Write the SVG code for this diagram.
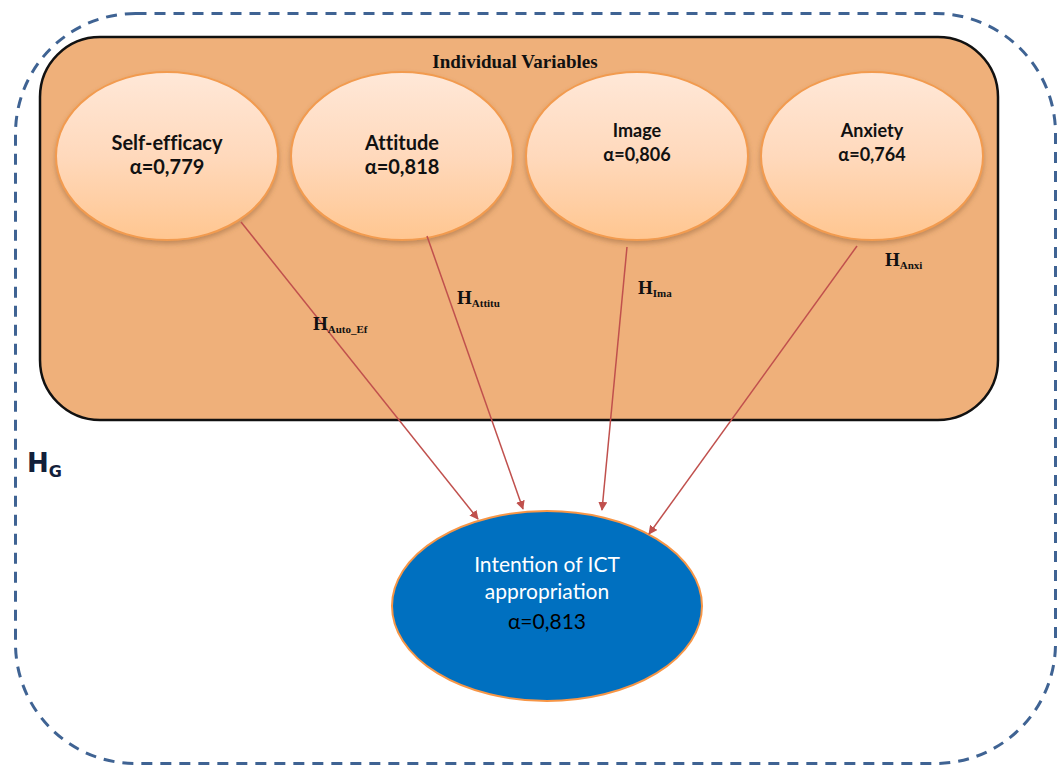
<svg xmlns="http://www.w3.org/2000/svg" width="1057" height="765" viewBox="0 0 1057 765">
<defs>
<linearGradient id="eg" x1="0" y1="0" x2="0" y2="1">
<stop offset="0" stop-color="#FFE8D8"/>
<stop offset="0.5" stop-color="#FFD9BC"/>
<stop offset="1" stop-color="#FFC690"/>
</linearGradient>
<filter id="sh" x="-10%" y="-10%" width="120%" height="130%">
<feDropShadow dx="0" dy="3" stdDeviation="2.5" flood-color="#8a5a30" flood-opacity="0.45"/>
</filter>
<marker id="ah" viewBox="0 0 10 10" refX="9" refY="5" markerWidth="9" markerHeight="9" markerUnits="userSpaceOnUse" orient="auto">
<path d="M0,0 L10,5 L0,10 Z" fill="#C0504D"/>
</marker>
<style>
.var{fill:url(#eg);stroke:#F29B4F;stroke-width:2;filter:url(#sh)}
.t1{font-family:Lato,"Liberation Sans",sans-serif;font-weight:bold;font-size:20px;fill:#111;text-anchor:middle;font-variant-ligatures:none}
.t2{font-family:Lato,"Liberation Sans",sans-serif;font-weight:bold;font-size:18px;fill:#111;text-anchor:middle}
.h{font-family:"Liberation Serif","Times New Roman",serif;font-weight:bold;fill:#111}
.hb{font-size:19px}
.hs{font-size:11px}
.conn line{stroke:#C0504D;stroke-width:1.5;marker-end:url(#ah)}
</style>
</defs>
<rect x="0" y="0" width="1057" height="765" fill="#fff"/>
<g id="group-HG">
<rect x="15.5" y="13.5" width="1040" height="750" rx="120" ry="120" fill="none" stroke="#3F6393" stroke-width="3" stroke-dasharray="11 8"/>
<text x="27" y="472" font-family="'DejaVu Sans','Liberation Sans',sans-serif" font-weight="bold" fill="#12203A"><tspan font-size="26">H</tspan><tspan font-size="16" dy="5">G</tspan></text>
</g>
<g id="group-individual">
<rect x="40" y="37" width="958" height="383" rx="60" ry="60" fill="#EFB07A" stroke="#111" stroke-width="2.5"/>
<text x="515" y="68" font-family="'Liberation Serif','Times New Roman',serif" font-weight="bold" font-size="19" fill="#111" text-anchor="middle">Individual Variables</text>
</g>
<g id="node-selfefficacy">
<ellipse class="var" cx="167" cy="156" rx="111" ry="84"/>
<text class="t1" x="167" y="150">Self-efficacy</text>
<text class="t1" x="167" y="174">α=0,779</text>
</g>
<g id="node-attitude">
<ellipse class="var" cx="402" cy="156" rx="111" ry="84"/>
<text class="t1" x="402" y="150">Attitude</text>
<text class="t1" x="402" y="174">α=0,818</text>
</g>
<g id="node-image">
<ellipse class="var" cx="637" cy="156" rx="111" ry="84"/>
<text class="t2" x="637" y="137">Image</text>
<text class="t2" x="637" y="161">α=0,806</text>
</g>
<g id="node-anxiety">
<ellipse class="var" cx="872" cy="156" rx="111" ry="84"/>
<text class="t2" x="872" y="137">Anxiety</text>
<text class="t2" x="872" y="161">α=0,764</text>
</g>
<g id="node-intention">
<ellipse cx="547" cy="606" rx="155" ry="95" fill="#0070C0" stroke="#F79646" stroke-width="2"/>
<text x="547" y="572" font-family="Lato,'Liberation Sans',sans-serif" font-size="21" fill="#fff" text-anchor="middle">Intention of ICT</text>
<text x="547" y="599" font-family="Lato,'Liberation Sans',sans-serif" font-size="21" fill="#fff" text-anchor="middle">appropriation</text>
<text x="547" y="629" font-family="Lato,'Liberation Sans',sans-serif" font-size="21" fill="#000" text-anchor="middle">α=0,813</text>
</g>
<g id="connectors" class="conn">
<line x1="241" y1="222" x2="478" y2="519"/>
<line x1="427" y1="236" x2="523" y2="509"/>
<line x1="627" y1="247" x2="602" y2="510"/>
<line x1="857" y1="246" x2="649" y2="534"/>
</g>
<g id="labels">
<text class="h" x="313" y="330"><tspan class="hb">H</tspan><tspan class="hs" dy="3">Auto_Ef</tspan></text>
<text class="h" x="457" y="304"><tspan class="hb">H</tspan><tspan class="hs" dy="3">Attitu</tspan></text>
<text class="h" x="638" y="294"><tspan class="hb">H</tspan><tspan class="hs" dy="3">Ima</tspan></text>
<text class="h" x="885" y="266"><tspan class="hb">H</tspan><tspan class="hs" dy="3">Anxi</tspan></text>
</g>
</svg>
